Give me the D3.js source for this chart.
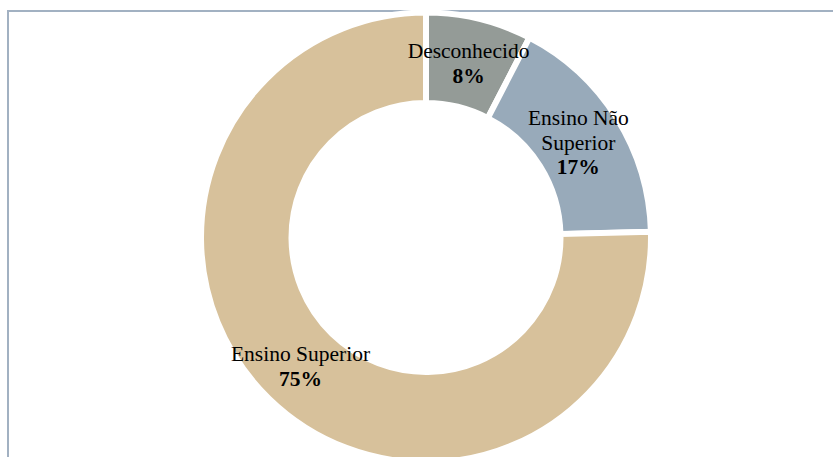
<!DOCTYPE html>
<html>
<head>
<meta charset="utf-8">
<script src="https://cdn.jsdelivr.net/npm/d3@7"></script>
<style>
  html, body { margin: 0; padding: 0; background: #ffffff; overflow: hidden; }
  svg { display: block; }
</style>
</head>
<body>
<svg id="chart" width="833" height="457"></svg>
<script>
// Education level shares (percent)
const categories = ["Desconhecido", "Ensino Não Superior", "Ensino Superior"];
const shares = [7.6, 17.0, 75.4];
const labelLines = [["Desconhecido"], ["Ensino Não", "Superior"], ["Ensino Superior"]];
const percentLabels = ["8%", "17%", "75%"];
const colors = ["#949b97", "#98aaba", "#d7c19b"];

const width = 833, height = 457;
const cx = 426, cy = 237.5;
const outerR = 225, innerR = 134.5;

const svg = d3.select("#chart");

// Chart area frame
svg.append("rect")
  .attr("x", 8).attr("y", 11)
  .attr("width", width + 20).attr("height", height + 20)
  .attr("fill", "none")
  .attr("stroke", "#a2b1c2")
  .attr("stroke-width", 2);

const data = categories.map((c, i) => ({ name: c, value: shares[i], lines: labelLines[i], pct: percentLabels[i], color: colors[i] }));

const pie = d3.pie().value(d => d.value).sort(null);
const arc = d3.arc().innerRadius(innerR).outerRadius(outerR);
const labelArc = d3.arc().innerRadius((innerR + outerR) / 2).outerRadius((innerR + outerR) / 2);

const g = svg.append("g").attr("transform", `translate(${cx},${cy})`);

const arcs = pie(data);

// Slices separated by white outlines
g.selectAll("path.slice")
  .data(arcs)
  .join("path")
  .attr("class", "slice")
  .attr("d", arc)
  .attr("fill", d => d.data.color)
  .attr("stroke", "#ffffff")
  .attr("stroke-width", 6)
  .attr("stroke-linejoin", "miter");

const lineH = 24.5;
const fontSize = 21.5;

// Category name plus bold percentage, centred on each ring segment
g.selectAll("text.lbl")
  .data(arcs)
  .join("text")
  .attr("class", "lbl")
  .attr("font-family", "'Liberation Serif', 'Times New Roman', serif")
  .attr("font-size", fontSize)
  .attr("fill", "#000000")
  .attr("text-anchor", "middle")
  .each(function (d) {
    const [x, y] = labelArc.centroid(d);
    const lines = d.data.lines.map(t => ({ t, bold: false })).concat([{ t: d.data.pct, bold: true }]);
    const n = lines.length;
    const y0 = y - (n - 1) * lineH / 2 + 7.5;
    const sel = d3.select(this);
    lines.forEach((ln, i) => {
      sel.append("tspan")
        .attr("x", x)
        .attr("y", y0 + i * lineH)
        .attr("font-weight", ln.bold ? "bold" : "normal")
        .text(ln.t);
    });
  });
</script>
</body>
</html>
